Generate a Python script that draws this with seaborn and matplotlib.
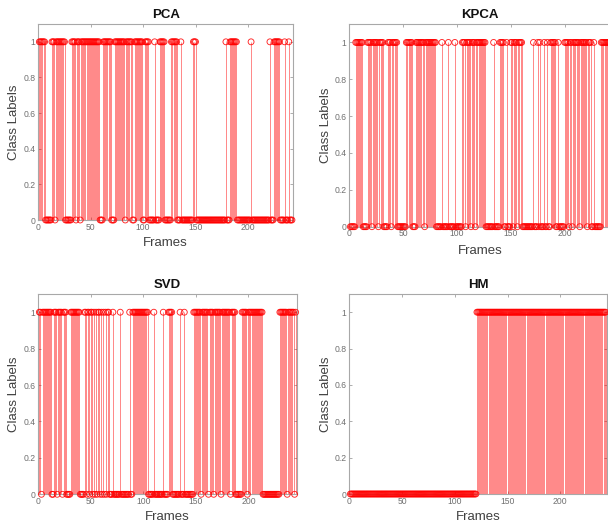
import numpy as np
import pandas as pd
import seaborn as sns
import matplotlib.pyplot as plt

sns.set_style("ticks")
plt.rcParams['font.family'] = ['Liberation Sans', 'DejaVu Sans']

# frame indices whose class label is 1 (all other frames are 0)
pca_n = 242
pca_ones = [1, 2, 3, 4, 5, 6,
            13, 14, 15, 17, 18, 19, 20, 21, 22, 23, 24, 25,
            32, 33, 34, 35, 37, 38, 39, 41, 42, 43, 44, 45, 46, 47, 48, 49, 50, 51, 52, 53, 54, 55, 56, 57, 58,
            62, 63, 64, 65, 66, 67, 68, 69,
            73, 74, 75, 76, 77, 78, 79, 80, 81, 82,
            84, 85, 86, 87, 88, 89,
            92, 93, 94, 95, 96, 97, 98, 99,
            102, 103, 104, 105, 111, 116, 117, 118, 119, 120,
            127, 128, 129, 130, 131, 132, 136, 148, 149, 150,
            179, 183, 184, 185, 186, 187, 188, 189, 203, 221,
            225, 226, 227, 228, 229, 230, 235, 239]

kpca_n = 242
kpca_ones = [6, 7, 8, 9, 10, 11, 12,
             17, 18, 19, 20, 22, 23, 24, 25, 26, 28, 29, 30, 31,
             36, 37, 38, 40, 41, 42, 43, 44,
             53, 54, 55, 56, 57, 58,
             62, 63, 64, 65, 66, 67, 68, 69, 71, 72, 73, 74, 75, 76, 77, 78, 79, 80,
             86, 92, 98,
             105, 106, 107, 109, 110, 111, 112, 114, 115, 116, 118, 119, 120, 121, 122, 123, 124, 125, 126,
             134, 140, 141, 142, 143, 146,
             150, 151, 153, 154, 155, 157, 158, 159, 160,
             171, 175, 177, 181, 184, 187, 188, 189, 190, 191, 194,
             200, 201, 202, 203, 205, 206, 208, 209, 210, 211, 212, 213, 215, 216, 217, 218, 219, 220, 222, 223, 224,
             227, 234, 235, 236, 237, 238, 239, 240, 241, 242]

svd_n = 245
svd_ones = [1, 2, 4, 5, 6, 7, 8, 9, 10, 11, 12,
            15, 16, 17, 19, 20, 21, 22, 24, 25, 26,
            31, 32, 33, 34, 35, 36, 37, 38, 39,
            44, 45, 47, 48, 50, 51, 53, 55, 57, 58, 60, 62, 64, 66, 67, 71, 78, 87,
            90, 91, 92, 93, 94, 95, 96, 97, 98, 99, 100, 101, 102, 103, 104,
            110, 119, 124, 125, 126, 127, 135, 139,
            148, 149, 150, 151, 152, 153, 154, 156, 157, 158, 159, 160, 161, 163, 164, 165, 166,
            168, 169, 170, 171, 172, 173, 175, 176, 177, 178, 179, 180, 181, 182, 184, 185, 186, 187,
            194, 195, 196, 197, 198, 200, 201, 202, 203, 204, 205, 206, 207, 208, 209, 210, 211, 212, 213,
            230, 231, 232, 233, 234, 235, 236, 238, 239, 240, 241, 242, 243, 245]

hm_n = 243
hm_first_one = 121

titles = ['PCA', 'KPCA', 'SVD', 'HM']
x_ticks = [0, 50, 100, 150, 200]
y_ticks = [0, 0.2, 0.4, 0.6, 0.8, 1]
y_tick_labels = ['0', '0.2', '0.4', '0.6', '0.8', '1']


def make_frame(n, ones):
    frames = np.arange(1, n + 1)
    label = np.isin(frames, ones).astype(int)
    return pd.DataFrame({'Frames': frames, 'Label': label})


hm_ones = list(range(hm_first_one, hm_n + 1))
panels = [
    (make_frame(pca_n, pca_ones), 243),
    (make_frame(kpca_n, kpca_ones), 243),
    (make_frame(svd_n, svd_ones), 246),
    (make_frame(hm_n, hm_ones), 244),
]

W, H = 608, 525
# axes boxes in pixels: left, top, right, bottom
boxes = [
    (38.3, 24, 293, 220),
    (349.3, 24, 611, 226.7),
    (38.3, 294, 296.7, 494.3),
    (349.3, 294, 606.7, 494),
]
ylabel_x = [-0.072, -0.066, -0.072, -0.066]
xlabel_y = [-0.087, -0.09, -0.085, -0.085]

fig = plt.figure(figsize=(W / 100, H / 100), dpi=100)

for i, ((df, xmax), (l, t, r, b)) in enumerate(zip(panels, boxes)):
    ax = fig.add_axes([l / W, 1 - b / H, (r - l) / W, (b - t) / H])
    ax.vlines(df['Frames'], 0, df['Label'], color='red', alpha=0.55, linewidth=0.6)
    sns.scatterplot(data=df, x='Frames', y='Label', ax=ax, marker='o', s=18,
                    color='none', edgecolor='red', linewidth=0.65, alpha=0.85,
                    clip_on=False, zorder=3, legend=False)
    ax.set_xlim(0, xmax)
    ax.set_ylim(0, 1.1)
    ax.set_xticks(x_ticks)
    ax.set_yticks(y_ticks)
    ax.set_yticklabels(y_tick_labels)
    ax.tick_params(direction='in', length=2.5, width=0.6, labelsize=6.2,
                   colors='#a0a0a0', labelcolor='#707070', top=True, right=True, pad=2)
    for sp in ax.spines.values():
        sp.set_visible(True)
        sp.set_color('#a8a8a8')
        sp.set_linewidth(0.8)
    ax.set_title(titles[i], fontsize=9.5, fontweight='bold', pad=4, color='#111111')
    ax.set_xlabel('Frames', fontsize=9.5, color='#404040')
    ax.set_ylabel('Class Labels', fontsize=9.5, color='#404040')
    ax.yaxis.set_label_coords(ylabel_x[i], 0.5)
    ax.xaxis.set_label_coords(0.5, xlabel_y[i])

fig.savefig('out.png', dpi=100)
